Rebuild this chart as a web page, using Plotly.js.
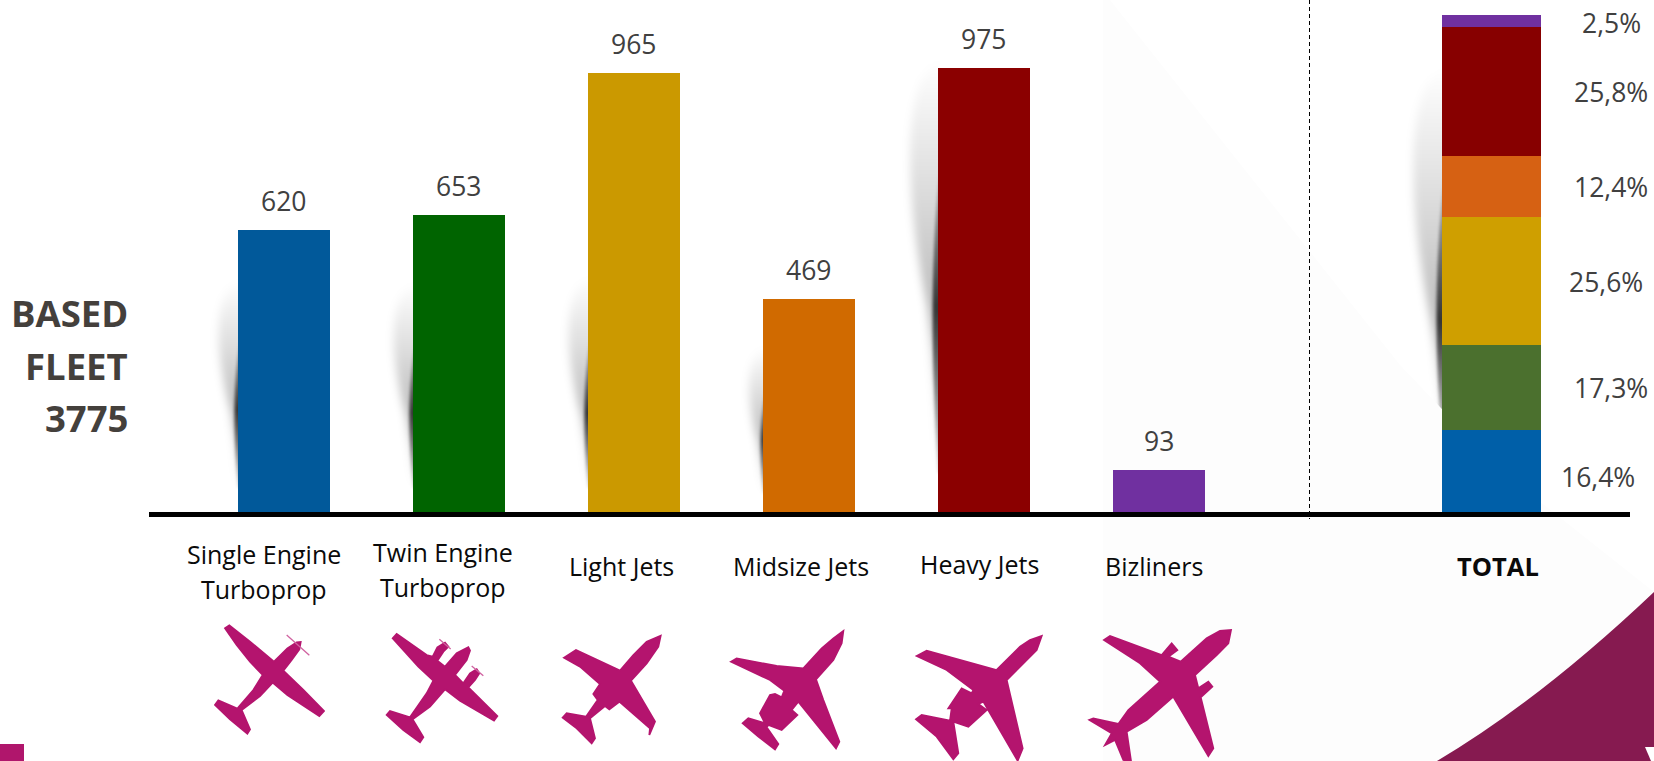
<!DOCTYPE html>
<html>
<head>
<meta charset="utf-8">
<script src="https://cdn.plot.ly/plotly-3.0.1.min.js"></script>
<style>html,body{margin:0;padding:0;background:#fff;overflow:hidden}#chart{width:1654px;height:761px}</style>
</head>
<body>
<div id="chart"></div>
<script>
var categories = ["Single Engine Turboprop", "Twin Engine Turboprop", "Light Jets", "Midsize Jets", "Heavy Jets", "Bizliners"];
var fleetValues = [620, 653, 965, 469, 975, 93];
var barColors = ["#01599a", "#006400", "#cb9900", "#d06a00", "#8b0000", "#7030a0"];
var totalShares = [16.4, 17.3, 25.6, 12.4, 25.8, 2.5];
var totalColors = ["#005fa8", "#4b702e", "#cf9f00", "#d66113", "#870000", "#7030a0"];
var totalLabelText = ["16,4%", "17,3%", "25,6%", "12,4%", "25,8%", "2,5%"];
var totalLabelPos = [[1598, 477], [1611, 388], [1606, 282], [1611, 187], [1611, 92], [1611, 23]];
var categoryLines = [["Single Engine", "Turboprop"], ["Twin Engine", "Turboprop"], ["Light Jets"], ["Midsize Jets"], ["Heavy Jets"], ["Bizliners"]];
var categoryLabelPos = [[264, 554, 589], [443, 552, 587], [621, 566], [801, 566], [979, 563.5], [1154, 566]];
var sideTitle = ["BASED", "FLEET", "3775"];
var sideTitleY = [313, 366, 418];

var W = 1654, H = 761, L = 149, R = 1630, BASE = 512;
function px(x) { return (x - L) / (R - L); }
function py(y) { return (BASE - y) / BASE; }
function polyPath(pts, ox, oy) {
  return pts.map(function (p, i) {
    return (i ? "L" : "M") + px(ox + p[0] / 3).toFixed(5) + "," + py(oy + p[1] / 3).toFixed(5);
  }).join(" ") + " Z";
}

var PLANE = "#b4146e";
var planes = [
 {o:[200,610], p:[[75,55],[88,46],[150,95],[222,155],[262,115],[290,97],[302,96],[298,118],[275,150],[250,182],[310,240],[372,303],[358,318],[262,255],[218,218],[180,258],[125,300],[150,358],[142,371],[90,328],[45,285],[55,271],[112,296],[160,240],[188,195],[150,155],[110,105]],
  props:[[[260,75],[328,136]]]},
 {o:[200,610], p:[[578,85],[590,72],[680,135],[698,140],[712,112],[735,98],[745,110],[730,125],[712,152],[735,170],[770,130],[805,112],[810,122],[800,150],[765,195],[790,220],[810,190],[830,178],[838,190],[825,210],[805,232],[892,318],[882,332],[780,272],[735,238],[690,290],[638,328],[670,382],[660,397],[610,360],[560,315],[570,303],[630,322],[680,250],[700,212],[655,170]],
  props:[[[718,88],[752,117]],[[815,168],[850,197]]]},
 {o:[550,620], p:[[42,113],[78,90],[210,152],[250,105],[290,65],[332,47],[325,80],[290,130],[243,182],[315,305],[298,345],[300,325],[208,245],[178,268],[165,258],[120,295],[135,355],[125,370],[80,325],[38,293],[50,280],[108,290],[143,240],[130,222],[150,192],[90,140]], props:[]},
 {o:[550,620], p:[[543,125],[560,115],[680,138],[760,145],[815,85],[850,55],[880,33],[875,70],[850,120],[798,178],[820,240],[868,365],[858,385],[745,245],[725,270],[742,285],[695,330],[655,315],[650,322],[685,372],[675,388],[625,350],[578,310],[595,295],[645,310],[630,280],[660,225],[675,222],[695,232],[703,212],[660,180]], props:[]},
 {o:[830,500], p:[[260,468],[290,452],[500,510],[570,440],[600,420],[635,408],[620,450],[530,540],[578,745],[563,782],[460,605],[445,612],[470,630],[415,680],[370,665],[385,760],[370,778],[320,710],[258,658],[275,645],[360,662],[365,625],[355,625],[395,565],[425,580],[430,570],[350,510]], props:[]},
 {o:[830,500], p:[[822,420],[840,408],[995,465],[1025,430],[1042,450],[1015,470],[1052,485],[1130,415],[1170,393],[1203,390],[1195,430],[1160,465],[1095,525],[1105,565],[1135,545],[1147,560],[1112,592],[1150,745],[1135,768],[1030,590],[950,660],[890,695],[903,783],[880,780],[855,720],[825,735],[845,700],[778,660],[790,655],[865,672],[895,630],[990,545],[930,490]], props:[]}
];

var shapes = [];
shapes.push({type:"path", xref:"paper", yref:"paper", layer:"below", line:{width:0}, fillcolor:"#fdfdfd",
  path:polyPath([[1103,0],[1110,0],[1400,365],[1500,470],[1654,592],[1654,761],[1103,761]].map(function(p){return [p[0]*3,p[1]*3];}),0,0)});
shapes.push({type:"line", xref:"paper", yref:"paper", x0:px(1309.5), x1:px(1309.5), y0:py(0), y1:py(519), line:{color:"#000", width:1, dash:"4px,3px"}});
shapes.push({type:"path", xref:"paper", yref:"paper", line:{width:0}, fillcolor:"#b0166c",
  path:"M"+px(0)+","+py(744)+" L"+px(24)+","+py(744)+" L"+px(24)+","+py(761)+" L"+px(0)+","+py(761)+" Z"});
shapes.push({type:"path", xref:"paper", yref:"paper", line:{width:0}, fillcolor:"#861a50",
  path:"M"+px(1437)+","+py(761)+" Q"+px(1540)+","+py(700)+" "+px(1654)+","+py(592)+" L"+px(1654)+","+py(761)+" Z"});
shapes.push({type:"path", xref:"paper", yref:"paper", line:{width:0}, fillcolor:"#ffffff",
  path:"M"+px(1645)+","+py(747)+" L"+px(1654)+","+py(747)+" L"+px(1654)+","+py(761)+" L"+px(1651)+","+py(761)+" Z"});
planes.forEach(function (pl) {
  shapes.push({type:"path", xref:"paper", yref:"paper", fillcolor:PLANE, line:{color:PLANE, width:1.8}, path:polyPath(pl.p, pl.o[0], pl.o[1])});
  pl.props.forEach(function (s) {
    shapes.push({type:"line", xref:"paper", yref:"paper", x0:px(pl.o[0]+s[0][0]/3), y0:py(pl.o[1]+s[0][1]/3), x1:px(pl.o[0]+s[1][0]/3), y1:py(pl.o[1]+s[1][1]/3), line:{color:"#d062a0", width:1.3}});
  });
});

// soft shadows behind the bars: [bar left, start y, darkest y, end y, spread]
var shadowSpecs = [[238,280,410,488,25],[413,283,413,488,25],[588,277,413,488,25],[763,347,440,493,18],[938,60,307,473,36],[1442,68,321,442,37]];
function shadowImage(s, idx) {
  var right = s[0], top = s[1], dark = s[2], end = s[3], w = s[4];
  var pad = 14, bw = w + pad + 2, bh = end - top + 2 * pad;
  var X = bw - 2, T = pad, D = dark - top + pad, E = end - top + pad;
  var wn = w * 0.22;
  var f = (D - T) / (E - T);
  var S = T + (D - T) * 0.3;
  var svg = '<svg xmlns="http://www.w3.org/2000/svg" width="' + bw + '" height="' + bh + '" viewBox="0 0 ' + bw + ' ' + bh + '">' +
    '<defs><linearGradient id="a" gradientUnits="userSpaceOnUse" x1="0" y1="' + T + '" x2="0" y2="' + E + '">' +
    '<stop offset="0" stop-color="#000" stop-opacity="0"/><stop offset="' + f.toFixed(3) + '" stop-color="#000" stop-opacity="0.26"/><stop offset="1" stop-color="#000" stop-opacity="0"/></linearGradient>' +
    '<linearGradient id="b" gradientUnits="userSpaceOnUse" x1="0" y1="' + S + '" x2="0" y2="' + E + '">' +
    '<stop offset="0" stop-color="#000" stop-opacity="0"/><stop offset="' + ((D - S) / (E - S)).toFixed(3) + '" stop-color="#000" stop-opacity="0.72"/><stop offset="1" stop-color="#000" stop-opacity="0.15"/></linearGradient>' +
    '<filter id="f1" x="-50%" y="-20%" width="200%" height="140%"><feGaussianBlur stdDeviation="4.5"/></filter>' +
    '<filter id="f2" x="-50%" y="-20%" width="200%" height="140%"><feGaussianBlur stdDeviation="1.5"/></filter></defs>' +
    '<path d="M' + (X + 8) + ' ' + T + ' C ' + (X - w) + ' ' + T + ' ' + (X - w) + ' ' + (T + (D - T) * 0.5) + ' ' + (X - w * 0.3) + ' ' + D + ' Q ' + (X - 2) + ' ' + ((D + E) / 2) + ' ' + X + ' ' + E + ' L ' + (X + 8) + ' ' + E + ' Z" fill="url(#a)" filter="url(#f1)"/>' +
    '<path d="M' + (X + 6) + ' ' + S + ' C ' + (X - wn) + ' ' + (S + (D - S) * 0.6) + ' ' + (X - wn) + ' ' + (D + (E - D) * 0.2) + ' ' + X + ' ' + E + ' L ' + (X + 6) + ' ' + E + ' Z" fill="url(#b)" filter="url(#f2)"/>' +
    '</svg>';
  return {source:"data:image/svg+xml;charset=utf-8," + encodeURIComponent(svg), xref:"paper", yref:"paper",
    x:px(right - bw + 2), y:py(top - pad), sizex:bw / (R - L), sizey:bh / BASE, xanchor:"left", yanchor:"top", sizing:"stretch", layer:"below", opacity:1};
}

var annotations = [];
function note(text, x, y, size, color, bold, anchor) {
  annotations.push({text:bold ? "<b>" + text + "</b>" : text, xref:"paper", yref:"paper", x:px(x), y:py(y), xanchor:anchor || "center", yanchor:"middle", showarrow:false,
    font:{family:"'Open Sans', sans-serif", size:size, color:color}});
}
fleetValues.forEach(function (v, i) {
  annotations.push({text:String(v), xref:"x", yref:"y", x:i, y:v, yshift:29, xanchor:"center", yanchor:"middle", showarrow:false,
    font:{family:"'Open Sans', sans-serif", size:26.5, color:"#404040"}});
});
totalLabelText.forEach(function (t, i) { note(t, totalLabelPos[i][0], totalLabelPos[i][1], 26.5, "#404040"); });
categoryLines.forEach(function (lines, i) {
  lines.forEach(function (t, j) { note(t, categoryLabelPos[i][0], categoryLabelPos[i][j + 1], 25, "#0a0a0a"); });
});
note("TOTAL", 1498, 566, 25.5, "#0a0a0a", true);
sideTitle.forEach(function (t, i) { note(t, 130, sideTitleY[i], 36.5, "#44403c", true, "right"); });

var STEP = 175;
var traces = [
  {type:"bar", x:categories, y:fleetValues, width:92 / STEP, marker:{color:barColors, line:{width:0}}, xaxis:"x", yaxis:"y", hoverinfo:"x+y", showlegend:false}
];
categories.forEach(function (c, i) {
  traces.push({type:"bar", name:c, x:["TOTAL"], y:[totalShares[i]], width:99 / STEP, marker:{color:totalColors[i], line:{width:0}}, xaxis:"x2", yaxis:"y2", showlegend:false});
});

var layout = {
  width:W, height:H, showlegend:false, barmode:"stack",
  margin:{l:L, r:W - R, t:0, b:H - BASE, pad:0},
  paper_bgcolor:"#ffffff", plot_bgcolor:"rgba(0,0,0,0)",
  xaxis:{type:"category", categories:categories, categoryorder:"array", categoryarray:categories, range:[(L - 283.5) / STEP, (R - 283.5) / STEP], showline:true, linecolor:"#000", linewidth:5, showticklabels:false, ticks:"", showgrid:false, zeroline:false, fixedrange:true},
  yaxis:{range:[0, BASE / 0.455], visible:false, showgrid:false, zeroline:false, fixedrange:true},
  xaxis2:{type:"category", overlaying:"x", anchor:"y2", range:[(L - 1491.5) / STEP, (R - 1491.5) / STEP], showline:false, showticklabels:false, ticks:"", showgrid:false, zeroline:false, fixedrange:true},
  yaxis2:{overlaying:"y", anchor:"x2", range:[0, BASE / 4.97], visible:false, showgrid:false, zeroline:false, fixedrange:true},
  shapes:shapes,
  images:shadowSpecs.map(shadowImage),
  annotations:annotations
};
Plotly.newPlot("chart", traces, layout, {displayModeBar:false, staticPlot:true});
</script>
</body>
</html>
